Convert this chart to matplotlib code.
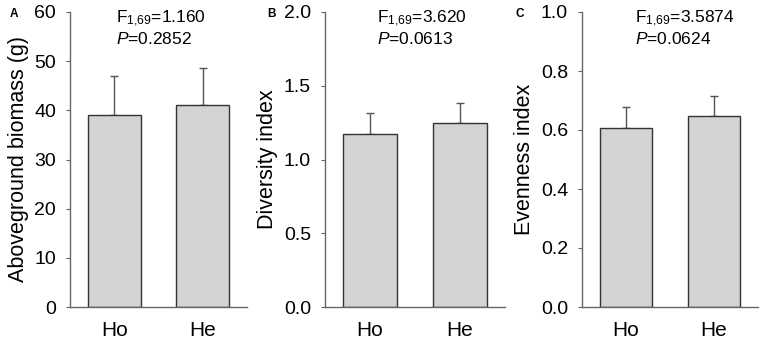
import matplotlib
matplotlib.use("Agg")
import matplotlib.pyplot as plt

plt.rcParams['font.family'] = ['Liberation Sans', 'DejaVu Sans']
plt.rcParams['mathtext.fontset'] = 'custom'
plt.rcParams['mathtext.rm'] = 'Liberation Sans'
plt.rcParams['mathtext.it'] = 'Liberation Sans:italic'

# data
groups = ['Ho', 'He']
biomass = [39.1, 41.0]
biomass_err = [7.8, 7.6]
diversity = [1.176, 1.25]
diversity_err = [0.137, 0.134]
evenness = [0.607, 0.647]
evenness_err = [0.072, 0.069]

panels = [
    dict(letter='A', vals=biomass, err=biomass_err, ylabel='Aboveground biomass (g)',
         ylim=(0, 60), ticks=[0, 10, 20, 30, 40, 50, 60], fmt='{:.0f}',
         stat='1.160', p='0.2852', tx=0.258),
    dict(letter='B', vals=diversity, err=diversity_err, ylabel='Diversity index',
         ylim=(0, 2.0), ticks=[0, 0.5, 1.0, 1.5, 2.0], fmt='{:.1f}',
         stat='3.620', p='0.0613', tx=0.287),
    dict(letter='C', vals=evenness, err=evenness_err, ylabel='Evenness index',
         ylim=(0, 1.0), ticks=[0, 0.2, 0.4, 0.6, 0.8, 1.0], fmt='{:.1f}',
         stat='3.5874', p='0.0624', tx=0.301),
]

W, H = 765, 343
fig = plt.figure(figsize=(W / 100, H / 100), dpi=100)

# axes boxes in pixels (left, right)
boxes = [(70, 247), (325, 505), (582, 758)]
letter_x = [10, 267, 515]
top_px, bot_px = 12, 307

spine_col = '#666666'
for pn, (l, r), lx in zip(panels, boxes, letter_x):
    ax = fig.add_axes([l / W, (H - bot_px) / H, (r - l) / W, (bot_px - top_px) / H])
    x = range(len(groups))
    ax.bar(x, pn['vals'], width=0.6, color='#d3d3d3', edgecolor='#333333', linewidth=1.0, zorder=2)
    ax.errorbar(x, pn['vals'], yerr=[[0, 0], pn['err']], fmt='none', ecolor='#555555',
                elinewidth=1.0, capsize=3.2, capthick=1.0, zorder=1)
    ax.set_xlim(-0.5, 1.5)
    ax.set_ylim(*pn['ylim'])
    ax.set_yticks(pn['ticks'])
    ax.set_yticklabels([pn['fmt'].format(t) for t in pn['ticks']])
    ax.set_xticks(list(x))
    ax.set_xticklabels(groups)
    for s in ['top', 'right']:
        ax.spines[s].set_visible(False)
    for s in ['left', 'bottom']:
        ax.spines[s].set_color(spine_col)
        ax.spines[s].set_linewidth(1.0)
    ax.tick_params(axis='y', direction='out', length=3, color=spine_col, labelsize=14, pad=7)
    ax.tick_params(axis='x', length=0, labelsize=15, pad=10)
    ax.set_ylabel(pn['ylabel'], fontsize=15.5, labelpad=4)
    ax.text(pn['tx'], 0.962, r'F$_{\mathregular{1{,}69}}$=' + pn['stat'], transform=ax.transAxes,
            fontsize=12.5, ha='left', va='baseline')
    ax.text(pn['tx'], 0.892, r'$P$=' + pn['p'], transform=ax.transAxes,
            fontsize=12.5, ha='left', va='baseline')
    fig.text(lx / W, (H - 14) / H, pn['letter'], fontsize=8.5, fontweight='bold',
             ha='left', va='center')

fig.savefig('out.png', dpi=100)
